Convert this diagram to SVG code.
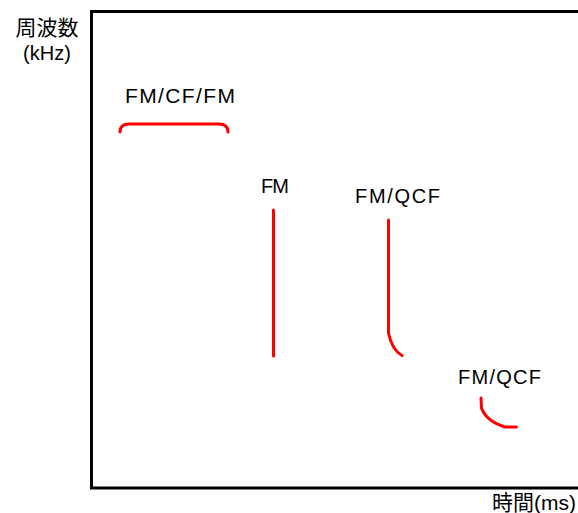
<svg xmlns="http://www.w3.org/2000/svg" width="578" height="513" viewBox="0 0 578 513">
<style>
.t{font-family:"Liberation Sans","Noto Sans CJK JP",Arial,sans-serif;font-size:20px;fill:#000}
.c{fill:none;stroke:#ff0000;stroke-width:3;stroke-linecap:round;stroke-linejoin:round}
</style>
<rect width="578" height="513" fill="#fff"/>
<g id="axes">
<path d="M580,11.5 L91.5,11.5 L91.5,488 L580,488" fill="none" stroke="#000" stroke-width="3"/>
<text class="t" x="47" y="35" text-anchor="middle" style="font-size:21px">周波数</text>
<text class="t" x="47" y="60" text-anchor="middle">(kHz)</text>
<text class="t" x="492" y="510" style="font-size:21px">時間(ms)</text>
</g>
<g id="fm-cf-fm">
<text class="t" x="125" y="103" textLength="110" lengthAdjust="spacing" style="font-size:21px">FM/CF/FM</text>
</g>
<g id="fm">
<text class="t" x="261" y="193" textLength="28" lengthAdjust="spacing">FM</text>
</g>
<g id="fm-qcf-1">
<text class="t" x="355" y="203" textLength="85" lengthAdjust="spacing">FM/QCF</text>
</g>
<g id="fm-qcf-2">
<text class="t" x="458" y="384" textLength="83" lengthAdjust="spacing">FM/QCF</text>
</g>
<g id="calls">
<path class="c" d="M120,132 Q120,124 129,124 L219,124 Q228,124 228,132"/>
<path class="c" d="M273.5,210 L273.5,356"/>
<path class="c" d="M388.5,220 L388.5,333 Q392,350 402,355.5"/>
<path class="c" d="M481,398 L481.5,408 Q486,421 505,427 L516.5,427"/>
</g>
</svg>
